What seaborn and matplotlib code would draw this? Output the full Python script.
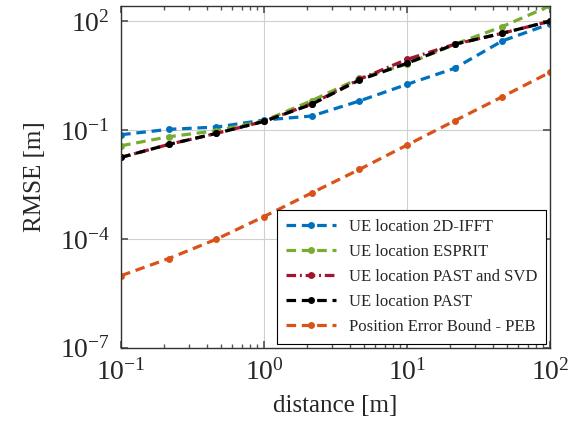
import numpy as np
import pandas as pd
import matplotlib
matplotlib.use('Agg')
import matplotlib.pyplot as plt
import seaborn as sns

# ── Data ──────────────────────────────────────────────────────────────────────
distance = [0.1, 0.2154, 0.4642, 1.0, 2.154, 4.642, 10.0, 21.54, 46.42, 100.0]

rmse_ifft = [0.0745, 0.105, 0.121, 0.189, 0.244, 0.633, 1.82, 5.05, 28.7, 84.4]
rmse_esprit = [0.037, 0.0656, 0.096, 0.18, 0.645, 2.67, 6.64, 23.2, 71.3, 265.0]
rmse_past_svd = [0.0177, 0.0403, 0.081, 0.174, 0.53, 2.5, 8.9, 23.2, 46.7, 100.0]
rmse_past = [0.0177, 0.0403, 0.081, 0.174, 0.512, 2.4, 6.93, 23.2, 46.7, 100.0]
peb = [9.7e-6, 2.87e-5, 9.8e-5, 4.13e-4, 1.85e-3, 8.2e-3, 0.0386, 0.18, 0.83, 3.91]

series = [
    ('UE location 2D-IFFT', rmse_ifft, '#0072BD', (0, (3, 1.8))),
    ('UE location ESPRIT', rmse_esprit, '#77AC30', (0, (3, 1.8))),
    ('UE location PAST and SVD', rmse_past_svd, '#A2142F', (0, (3, 1.2, 0.6, 1.2))),
    ('UE location PAST', rmse_past, 'black', (0, (3, 1.8))),
    ('Position Error Bound - PEB', peb, '#D95319', (0, (3, 1.8))),
]

# ── Styling ───────────────────────────────────────────────────────────────────
sns.set_theme(style='ticks')
plt.rcParams.update({'font.family': ['Liberation Serif', 'DejaVu Serif'],
                     'mathtext.fontset': 'cm',
                     'xtick.direction': 'in', 'ytick.direction': 'in',
                     'xtick.top': True, 'ytick.right': True})

fig = plt.figure(figsize=(5.85, 4.23), dpi=100)
ax = fig.add_axes([0.207, 0.178, 0.733, 0.808])

for label, vals, color, ls in series:
    df = pd.DataFrame({'distance': distance, 'rmse': vals})
    sns.lineplot(data=df, x='distance', y='rmse', ax=ax, color=color,
                 linestyle=ls, linewidth=2.3, marker='o', markersize=5,
                 markeredgewidth=0, label=label)

ax.set_xscale('log')
ax.set_yscale('log')
ax.set_xlim(0.1, 100)
ax.set_ylim(1e-7, 265)
ax.set_yticks([1e-7, 1e-4, 1e-1, 1e2])
ax.yaxis.set_minor_locator(matplotlib.ticker.NullLocator())
ax.grid(True, which='major', color='#d0d0d0', linewidth=0.8)
ax.tick_params(which='major', labelsize=20, length=5, color='#555555', pad=8)
ax.tick_params(which='minor', length=3, color='#555555')
for s in ax.spines.values():
    s.set_color('#333333')
    s.set_linewidth(1.0)

ax.set_xlabel('distance [m]', fontsize=18, labelpad=7)
ax.set_ylabel('RMSE [m]', fontsize=18, labelpad=10)

leg = ax.legend(loc='lower right', fontsize=12, frameon=True, fancybox=False,
                edgecolor='black', framealpha=1, handlelength=3.0,
                borderaxespad=0.25, labelspacing=0.55, borderpad=0.5)
leg.get_frame().set_linewidth(0.8)

fig.savefig('out.png', dpi=100)
